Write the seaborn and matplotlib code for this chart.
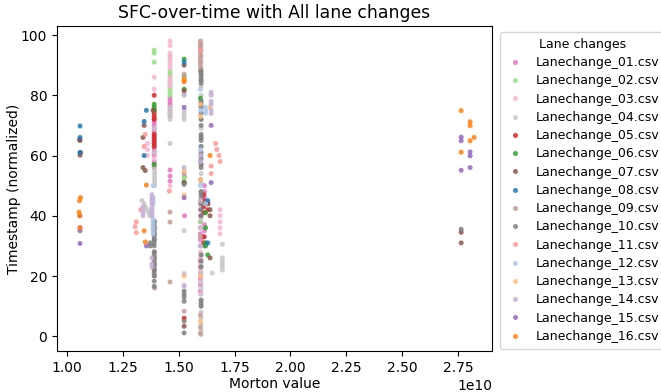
import matplotlib
matplotlib.use("Agg")
import matplotlib.pyplot as plt
import seaborn as sns
import pandas as pd

# ---- data (x in units of 1e10, y = normalized timestamp) ----
lc01_x = [1.39]*16 + [1.461]*10 + [1.526]*2 + [1.597]*13 + [1.615]*8
lc01_y = [72, 71, 70, 69, 68, 67, 66, 65, 64, 63, 62, 61, 60, 58, 57, 56,
          79, 78, 77, 76, 75, 74, 73, 55.2, 53.2, 51.5,
          53, 40,
          42, 40, 38, 36, 34, 32, 30, 25, 23, 21, 19, 17, 15,
          50, 48, 46, 44, 37, 35, 33, 30]

lc02_x = [1.39]*3 + [1.461]*10 + [1.524]*2 + [1.597]
lc02_y = [95, 94, 91, 93, 88, 87, 86, 85, 84, 83, 82, 81, 80, 53, 52, 38]

lc03_x = [1.36]*3 + [1.39]*3 + [1.461]*13 + [1.597]*8 + [1.685]*5 + [1.524]
lc03_y = [64, 62, 60, 86, 82, 59,
          98, 96.5, 94, 93, 92, 91, 90, 89, 86, 85, 84, 83, 50,
          96, 28, 26, 24, 22, 20, 18, 14,
          42, 40, 38, 36, 34, 17]

lc04_x = ([1.392]*14 + [1.335, 1.345, 1.35, 1.36, 1.365, 1.37] + [1.461]*6 +
          [1.524]*6 + [1.6]*39 + [1.695]*6 + [1.65])
lc04_y = [56.5, 55, 54, 53, 52, 51, 50, 69, 67, 65, 63, 61, 38, 36,
          45, 44, 43, 42, 41, 40,
          76, 75, 74, 73, 72, 64,
          75, 74, 73, 72, 80.4, 35,
          97, 95, 93, 91, 89, 87, 85, 83, 80, 78, 76, 72, 69, 66, 63, 60, 57, 54,
          51, 48, 45, 43, 39, 36, 33, 30, 27, 24, 21, 18, 16, 14, 12, 10, 8, 6,
          4, 2, 0.5,
          30.5, 26, 25, 24, 23, 22, 21]

lc05_x = [1.39]*10 + [1.524] + [1.612]*6 + [1.63]*2
lc05_y = [80, 75, 74, 73, 72, 67, 66, 65, 64, 63, 6, 47, 45, 43, 41, 33, 31, 44, 42]

lc06_x = [1.39]*4 + [1.524]*4 + [1.62]*5 + [1.63] + [1.597]
lc06_y = [77, 76, 75, 57, 92, 86, 82, 51, 44, 41, 36, 31, 30, 27, 79]

lc07_x = ([1.056, 1.058, 1.06, 1.058] + [1.385, 1.345, 1.34, 1.34, 1.35] +
          [1.524]*4 + [1.64]*3 + [1.63] + [2.764]*2)
lc07_y = [65.2, 65, 61, 60.1, 75, 70, 66, 56, 55, 90, 81.5, 51, 3.3,
          42, 40, 26, 44, 34.5, 31]

lc08_x = [1.058]*3 + [1.355, 1.345, 1.345] + [1.524] + [1.63]*2
lc08_y = [69.8, 66, 61, 75, 71.3, 60, 91, 45, 31]

lc09_x = [1.392]*10 + [1.461]*3 + [1.524]*3 + [1.597]*18
lc09_y = [38, 36, 34, 32, 28, 26, 24, 22, 20, 16,
          41.2, 37.9, 18,
          87, 54, 8.3,
          98, 97, 96, 95, 94, 93, 92, 91, 90, 89, 88, 58, 52, 44, 33, 7, 3, 1]

lc10_x = [1.39]*20 + [1.372]*2 + [1.524]*7 + [1.6]*32 + [2.764]
lc10_y = [38, 37, 36, 35, 34, 33, 32, 31, 30, 28, 27, 26, 25, 24, 23, 22, 21, 20,
          18.3, 16.6,
          31, 30,
          50.4, 15, 14, 13, 11.6, 5, 1.1,
          88, 87, 86, 85, 84, 78, 77, 76, 74, 72, 70, 67, 66, 65, 63, 61, 59, 57,
          56, 48, 47, 46, 45, 44, 42, 40, 27, 25, 23, 12, 11, 10,
          35.5]

lc11_x = ([1.33, 1.31, 1.305, 1.31] + [1.345, 1.35] + [1.458] + [1.645]*2 +
          [1.665, 1.67, 1.68, 1.685] + [1.597])
lc11_y = [42, 38, 36.4, 34.4, 63, 67, 48.2, 56.5, 54, 64, 62, 60, 58, 95]

lc12_x = [1.385]*10 + [1.524] + [1.597]*4 + [1.62]*4
lc12_y = [50, 46, 45, 44, 39, 38, 37, 36, 35, 34, 20.8, 82, 75, 62, 50,
          76, 75, 74, 44]

lc13_x = [1.524]*4 + [1.597]*6 + [1.64]
lc13_y = [85.4, 55, 46.9, 20, 77, 73, 52, 45, 20, 5, 76]

lc14_x = [1.38]*11 + [1.34]*4 + [1.524]*3 + [1.597]*4 + [1.645]*6
lc14_y = [47, 46, 45, 44, 43, 42, 41, 40, 26, 24, 23,
          43, 42, 41, 40,
          80, 56, 16.6,
          60, 58, 45, 30,
          81, 80, 78, 77, 75, 74]

lc15_x = [1.058]*4 + [1.355] + [1.524]*2 + [1.645]*2 + [2.764]*3 + [2.804]*3
lc15_y = [40, 36, 35, 30.8, 30, 76, 46, 70, 51, 66.1, 64.9, 55.1, 61.2, 59.9, 56]

lc16_x = ([1.06, 1.056, 1.054, 1.056, 1.058] + [1.355, 1.345, 1.35] +
          [1.524]*2 + [1.64] + [2.764]*2 + [2.804]*3 + [2.822])
lc16_y = [46, 45, 41.2, 40, 36, 50.2, 35, 31.3, 85, 84.5, 60,
          74.9, 61.1, 71.2, 69.9, 64.9, 66]

names = [f"Lanechange_{i:02d}.csv" for i in range(1, 17)]
xs = [lc01_x, lc02_x, lc03_x, lc04_x, lc05_x, lc06_x, lc07_x, lc08_x,
      lc09_x, lc10_x, lc11_x, lc12_x, lc13_x, lc14_x, lc15_x, lc16_x]
ys = [lc01_y, lc02_y, lc03_y, lc04_y, lc05_y, lc06_y, lc07_y, lc08_y,
      lc09_y, lc10_y, lc11_y, lc12_y, lc13_y, lc14_y, lc15_y, lc16_y]
colors = ["#e377c2", "#98df8a", "#f7b6d2", "#c7c7c7", "#d62728", "#2ca02c",
          "#8c564b", "#1f77b4", "#c49c94", "#7f7f7f", "#ff9896", "#aec7e8",
          "#ffbb78", "#c5b0d5", "#9467bd", "#ff7f0e"]

rows = []
for n, xl, yl in zip(names, xs, ys):
    for xv, yv in zip(xl, yl):
        rows.append((n, xv * 1e10, yv))
df = pd.DataFrame(rows, columns=["file", "morton", "t"])

fig = plt.figure(figsize=(6.61, 3.92), dpi=100)
ax = fig.add_axes([57/661, 1 - 351/392, (492 - 57)/661, (351 - 26)/392])
sns.scatterplot(data=df, x="morton", y="t", hue="file", hue_order=names,
                palette=dict(zip(names, colors)), s=13, linewidth=0,
                alpha=0.85, ax=ax)
ax.set_xlim(0.955e10, 2.902e10)
ax.set_ylim(-4.9, 103)
ax.set_title("SFC-over-time with All lane changes", fontsize=12.4)
ax.set_xlabel("Morton value", labelpad=2)
ax.set_ylabel("Timestamp (normalized)")
ax.yaxis.set_label_coords(-0.083, 0.5)
leg = ax.legend(title="Lane changes", bbox_to_anchor=(1.004, 1.0), loc="upper left",
                fontsize=9, title_fontsize=9, labelspacing=0.42,
                handletextpad=0.9, borderpad=0.45, handlelength=1.5)
fig.savefig("out.png", dpi=100)
